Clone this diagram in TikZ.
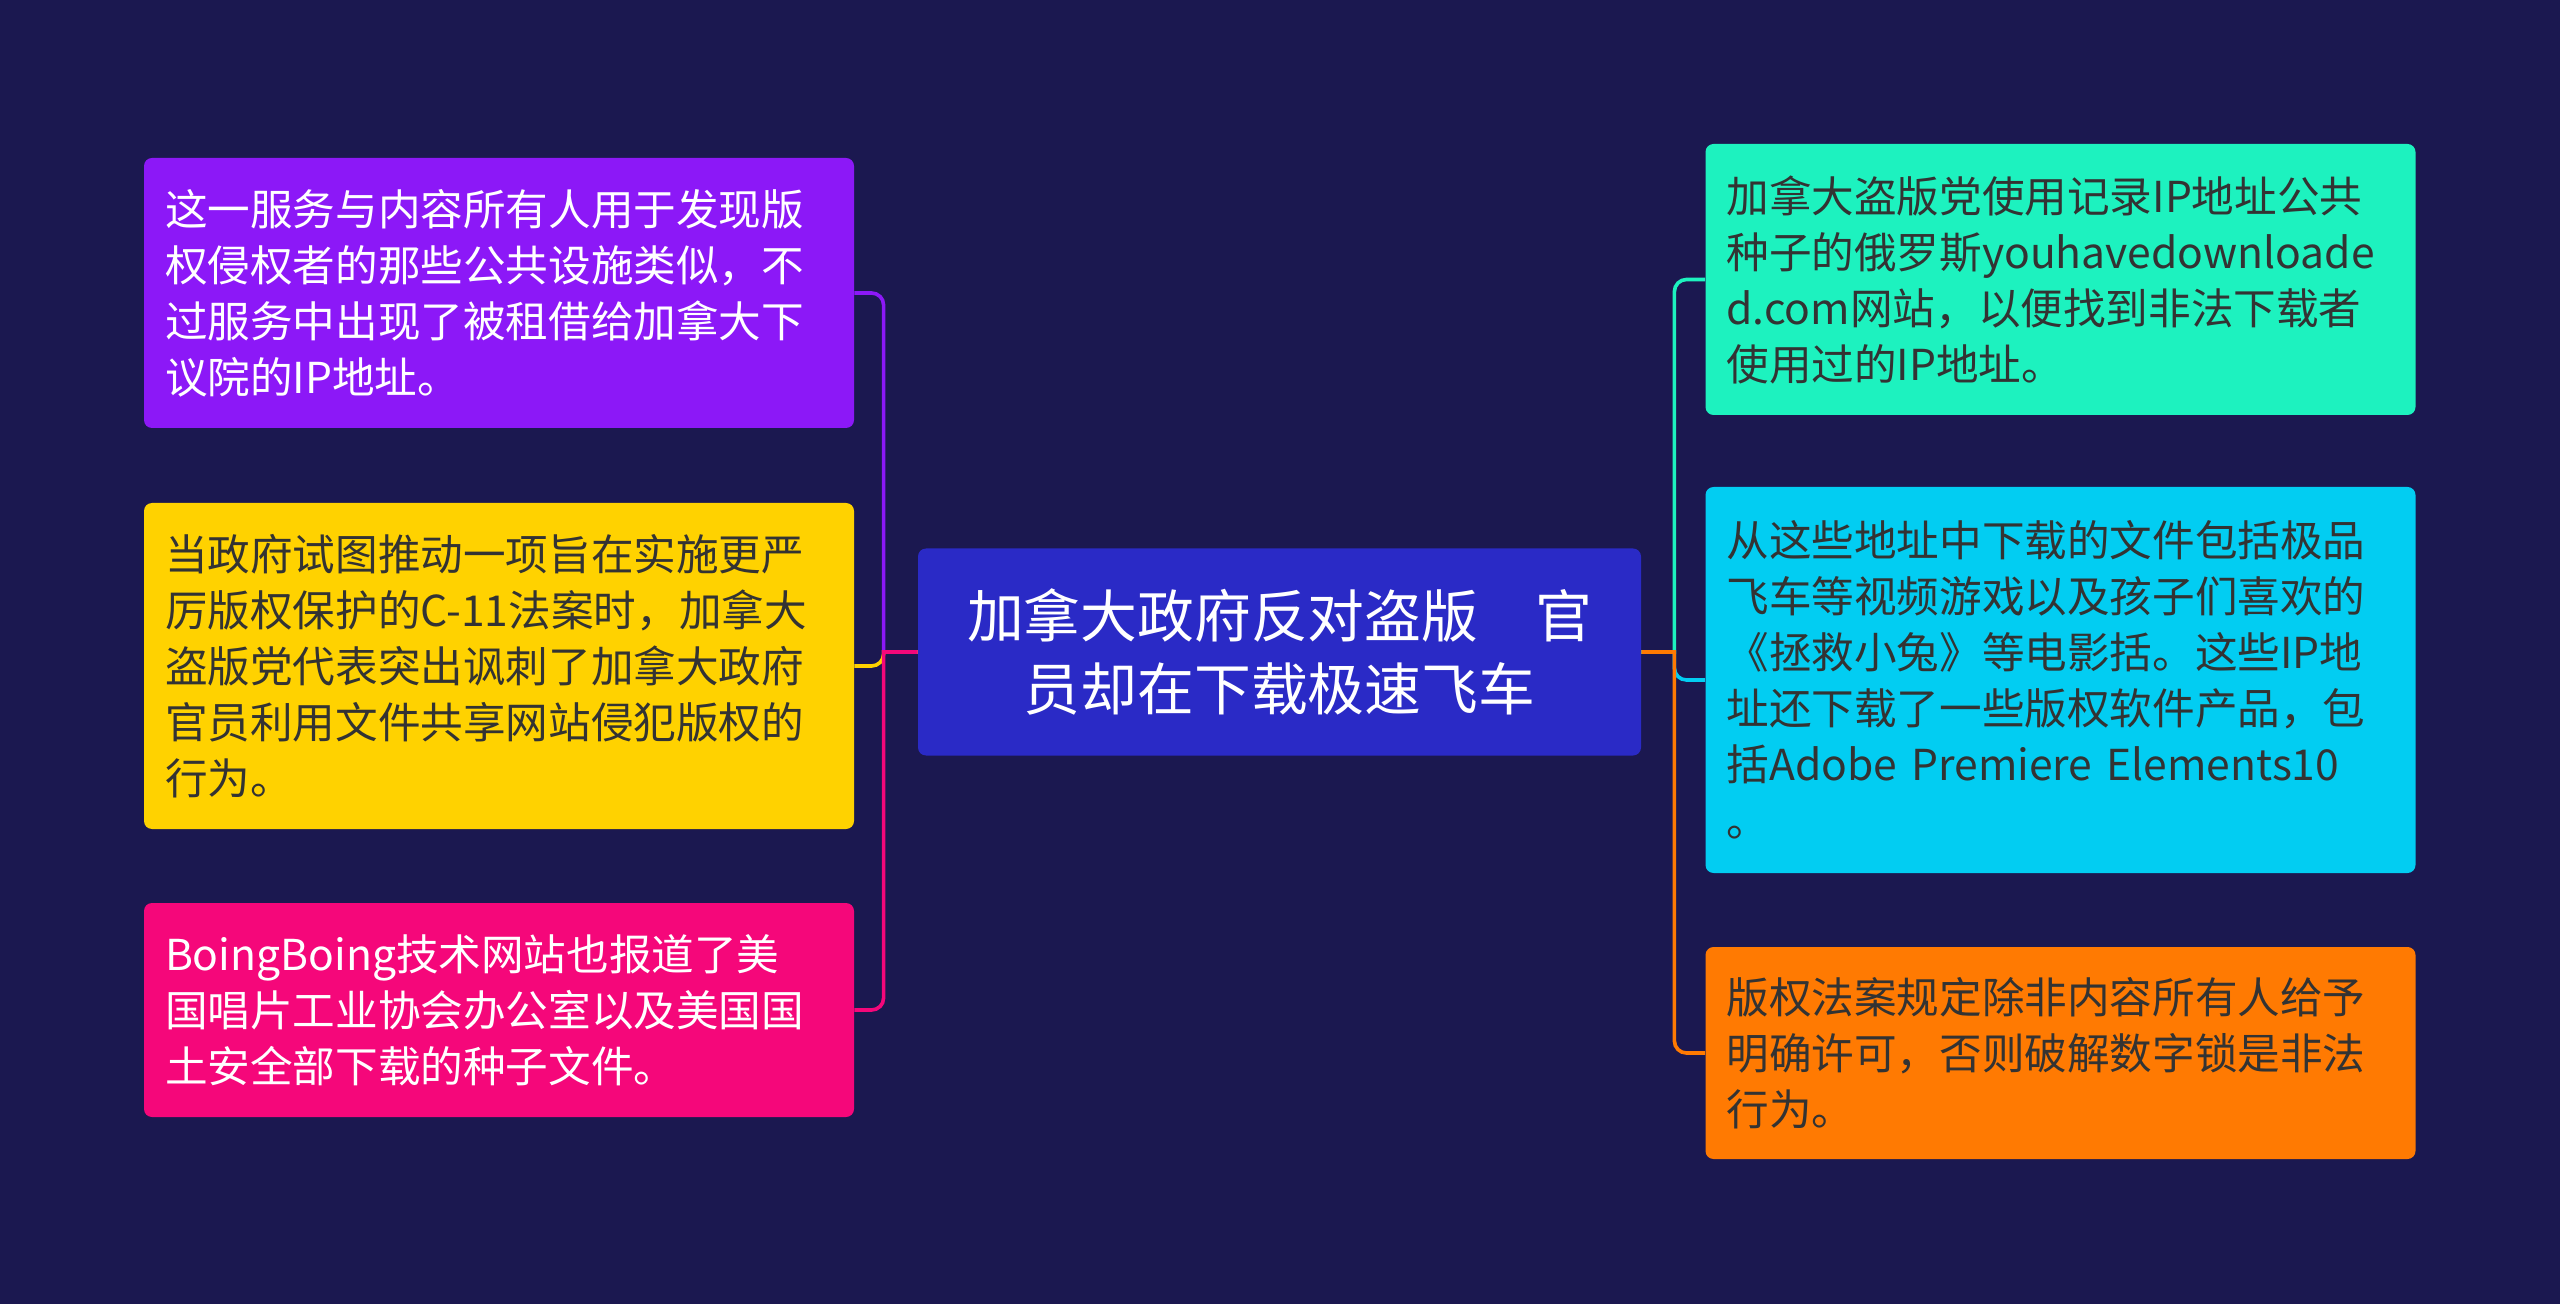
\documentclass[tikz,border=0pt]{standalone}
\usepackage{fontspec}
\setmainfont{Noto Sans CJK SC}
\begin{document}
\begin{tikzpicture}[x=1pt,y=-1pt,
  box/.style={rounded corners=4pt, inner xsep=10.5pt, inner ysep=0pt, text width=334pt, align=left,
    font=\fontsize{21.3}{28}\selectfont, anchor=center},
  centerbox/.style={rounded corners=4pt, fill=cCenter, text=white, align=center, inner sep=0pt,
    minimum width=361.5pt, minimum height=103.5pt, font=\fontsize{28.4}{36.5}\selectfont},
  link/.style={line width=1.8pt}]
\definecolor{bg}{HTML}{1B1850}
\definecolor{cCenter}{HTML}{2A2AC6}
\definecolor{cPurple}{HTML}{8C18F7}
\definecolor{cYellow}{HTML}{FFD200}
\definecolor{cPink}{HTML}{F5077A}
\definecolor{cTeal}{HTML}{1DF2BF}
\definecolor{cCyan}{HTML}{02CDF2}
\definecolor{cOrange}{HTML}{FF7A02}
\definecolor{dark}{HTML}{333333}
\fill[bg] (0,0) rectangle (1280,652);
\useasboundingbox (0,0) rectangle (1280,652);

\node[centerbox] (c) at (639.75,326) {加拿大政府反对盗版　官\\员却在下载极速飞车};

\node[box, fill=cPurple, text=white, minimum height=135pt] (p1) at (249.5,146.5)
 {这一服务与内容所有人用于发现版\\权侵权者的那些公共设施类似，不\\过服务中出现了被租借给加拿大下\\议院的IP地址。};
\node[box, fill=cYellow, text=dark, minimum height=163pt] (p2) at (249.5,333)
 {当政府试图推动一项旨在实施更严\\厉版权保护的C-11法案时，加拿大\\盗版党代表突出讽刺了加拿大政府\\官员利用文件共享网站侵犯版权的\\行为。};
\node[box, fill=cPink, text=white, minimum height=107pt] (p3) at (249.5,505)
 {BoingBoing技术网站也报道了美\\国唱片工业协会办公室以及美国国\\土安全部下载的种子文件。};

\node[box, fill=cTeal, text=dark, minimum height=135.5pt] (q1) at (1030.25,139.75)
 {加拿大盗版党使用记录IP地址公共\\种子的俄罗斯youhavedownloade\\d.com网站，以便找到非法下载者\\使用过的IP地址。};
\node[box, fill=cCyan, text=dark, minimum height=193pt] (q2) at (1030.25,340)
 {从这些地址中下载的文件包括极品\\飞车等视频游戏以及孩子们喜欢的\\《拯救小兔》等电影括。这些IP地\\址还下载了一些版权软件产品，包\\括Adobe Premiere Elements10\\。};
\node[box, fill=cOrange, text=dark, minimum height=106pt] (q3) at (1030.25,526.5)
 {版权法案规定除非内容所有人给予\\明确许可，否则破解数字锁是非法\\行为。};

% left connectors
\draw[link, cPurple] (c.west) -- ++(-17,0) [rounded corners=6pt] |- (p1.east);
\draw[link, cYellow] (c.west) -- ++(-17,0) [rounded corners=6pt] |- (p2.east);
\draw[link, cPink] (c.west) -- ++(-17,0) [rounded corners=6pt] |- (p3.east);
% right connectors
\draw[link, cTeal] (c.east) -- ++(16.5,0) [rounded corners=6pt] |- (q1.west);
\draw[link, cCyan] (c.east) -- ++(16.5,0) [rounded corners=6pt] |- (q2.west);
\draw[link, cOrange] (c.east) -- ++(16.5,0) [rounded corners=6pt] |- (q3.west);
\end{tikzpicture}
\end{document}
